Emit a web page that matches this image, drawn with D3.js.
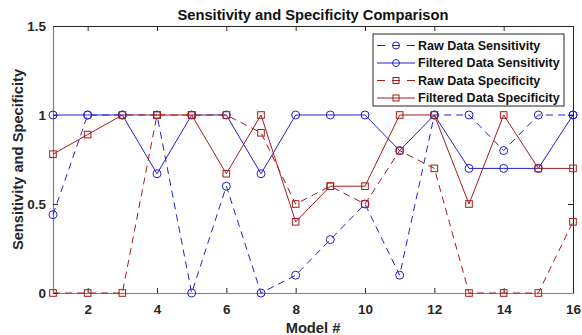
<!DOCTYPE html>
<html>
<head>
<meta charset="utf-8">
<script src="https://cdn.jsdelivr.net/npm/d3@7"></script>
<style>
  body { margin: 0; background: #fff; }
  text { font-family: "Liberation Sans", Arial, Helvetica, sans-serif; font-weight: bold; }
</style>
</head>
<body>
<div id="chart"></div>
<script>
// model numbers
const models = d3.range(1, 17);
const rawSensitivity = [0.44, 1, 1, 1, 0, 0.6, 0, 0.1, 0.3, 0.5, 0.1, 1, 1, 0.8, 1, 1];
const filteredSensitivity = [1, 1, 1, 0.67, 1, 1, 0.67, 1, 1, 1, 0.8, 1, 0.7, 0.7, 0.7, 1];
const rawSpecificity = [0, 0, 0, 1, 1, 1, 0.9, 0.5, 0.6, 0.5, 0.8, 0.7, 0, 0, 0, 0.4];
const filteredSpecificity = [0.78, 0.89, 1, 1, 1, 0.67, 1, 0.4, 0.6, 0.6, 1, 1, 0.5, 1, 0.7, 0.7];
const xTicks = [2, 4, 6, 8, 10, 12, 14, 16];
const yTicks = [0, 0.5, 1, 1.5];

const blue = "#2222cc", red = "#a61b1b";
const series = [
    { name: "Raw Data Sensitivity", values: rawSensitivity, color: blue, dash: "7,5", marker: "circle" },
    { name: "Filtered Data Sensitivity", values: filteredSensitivity, color: blue, dash: null, marker: "circle" },
    { name: "Raw Data Specificity", values: rawSpecificity, color: red, dash: "7,5", marker: "square" },
    { name: "Filtered Data Specificity", values: filteredSpecificity, color: red, dash: null, marker: "square" }
];

const width = 582, height = 335;
const margin = { top: 26, right: 9, bottom: 42, left: 53 };
const innerW = width - margin.left - margin.right;
const innerH = height - margin.top - margin.bottom;

const svg = d3.select("#chart").append("svg")
    .attr("width", width)
    .attr("height", height);

const x = d3.scaleLinear().domain([1, 16]).range([0, innerW]);
const y = d3.scaleLinear().domain([0, 1.5]).range([innerH, 0]);

const g = svg.append("g").attr("transform", `translate(${margin.left},${margin.top})`);

// top and right box lines with inward ticks
g.append("g")
    .call(d3.axisTop(x).tickValues(xTicks).tickSize(-5).tickFormat(""))
    .call(a => a.select(".domain").attr("stroke", "#262626"))
    .call(a => a.selectAll(".tick line").attr("stroke", "#262626"));
g.append("g")
    .attr("transform", `translate(${innerW},0)`)
    .call(d3.axisRight(y).tickValues(yTicks).tickSize(-5).tickFormat(""))
    .call(a => a.select(".domain").attr("stroke", "#262626"))
    .call(a => a.selectAll(".tick line").attr("stroke", "#262626"));

// bottom and left axes
g.append("g")
    .attr("transform", `translate(0,${innerH})`)
    .call(d3.axisBottom(x).tickValues(xTicks).tickSize(-5).tickPadding(11))
    .call(a => a.select(".domain").attr("stroke", "#808080").attr("stroke-width", 1.2))
    .call(a => a.selectAll(".tick line").attr("stroke", "#262626"))
    .call(a => a.selectAll(".tick text").attr("font-size", 13.5).attr("fill", "#262626"));
g.append("g")
    .call(d3.axisLeft(y).tickValues(yTicks).tickSize(-5).tickPadding(7).tickFormat(d3.format("")))
    .call(a => a.select(".domain").attr("stroke", "#808080").attr("stroke-width", 1.2))
    .call(a => a.selectAll(".tick line").attr("stroke", "#262626"))
    .call(a => a.selectAll(".tick text").attr("font-size", 13.5).attr("fill", "#262626"));

const line = d3.line().x((d, i) => x(models[i])).y(d => y(d));

function drawMarker(sel, type, color, size) {
    if (type === "circle") {
        sel.append("circle").attr("r", size).attr("fill", "none")
            .attr("stroke", color).attr("stroke-width", 1);
    } else {
        sel.append("rect").attr("x", -size + 0.5).attr("y", -size + 0.5)
            .attr("width", 2 * size - 1).attr("height", 2 * size - 1)
            .attr("fill", "none").attr("stroke", color).attr("stroke-width", 1);
    }
}

series.forEach(s => {
    const sg = g.append("g");
    sg.append("path")
        .attr("d", line(s.values))
        .attr("fill", "none")
        .attr("stroke", s.color)
        .attr("stroke-width", 1)
        .attr("stroke-dasharray", s.dash);
    sg.selectAll("g.pt")
        .data(s.values)
        .join("g")
        .attr("class", "pt")
        .attr("transform", (d, i) => `translate(${x(models[i])},${y(d)})`)
        .each(function () { drawMarker(d3.select(this), s.marker, s.color, s.marker === "circle" ? 4 : 3.8); });
});

// title and axis labels
svg.append("text")
    .attr("x", margin.left + innerW / 2).attr("y", 20)
    .attr("text-anchor", "middle").attr("font-size", 14.7).attr("fill", "#111")
    .text("Sensitivity and Specificity Comparison");
svg.append("text")
    .attr("x", margin.left + innerW / 2).attr("y", 333)
    .attr("text-anchor", "middle").attr("font-size", 14.7).attr("fill", "#262626")
    .text("Model #");
svg.append("text")
    .attr("transform", `translate(23,${margin.top + innerH / 2}) rotate(-90)`)
    .attr("text-anchor", "middle").attr("font-size", 14.7).attr("fill", "#262626")
    .text("Sensitivity and Specificity");

// legend
const legend = svg.append("g").attr("transform", "translate(373,34)");
legend.append("rect")
    .attr("width", 191).attr("height", 72)
    .attr("fill", "#fff").attr("stroke", "#262626").attr("stroke-width", 1);
series.forEach((s, i) => {
    const row = legend.append("g").attr("transform", `translate(0,${11.5 + i * 17.5})`);
    row.append("line")
        .attr("x1", 4).attr("x2", 42).attr("y1", 0).attr("y2", 0)
        .attr("stroke", s.color).attr("stroke-width", 1)
        .attr("stroke-dasharray", s.dash ? "8,7" : null);
    const m = row.append("g").attr("transform", "translate(23,0)");
    drawMarker(m, s.marker, s.color, 3.5);
    row.append("text")
        .attr("x", 45).attr("y", 0).attr("dy", "0.35em")
        .attr("font-size", 12.5).attr("fill", "#111")
        .text(s.name);
});
</script>
</body>
</html>
